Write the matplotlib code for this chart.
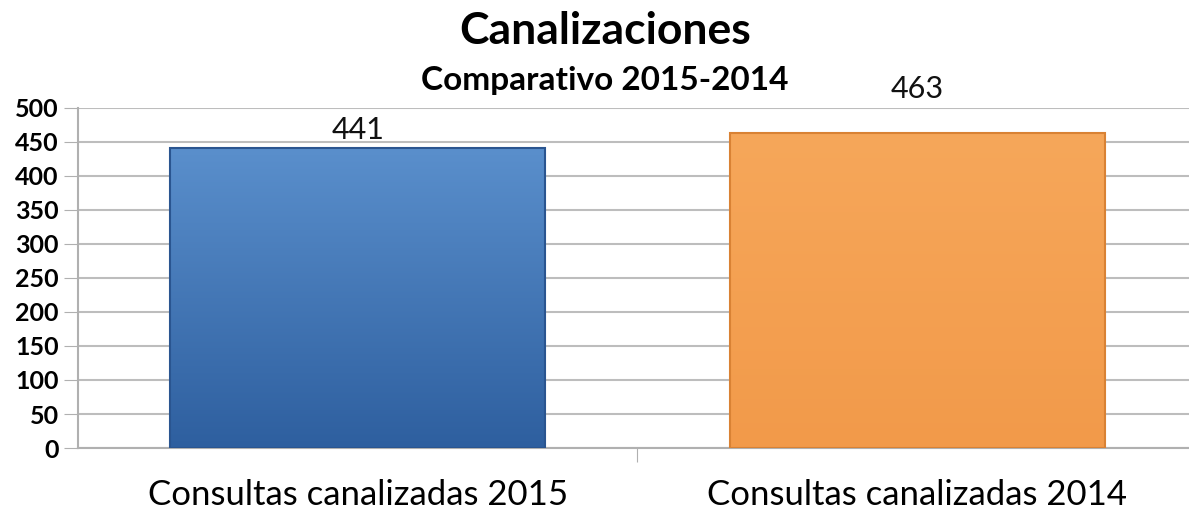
import matplotlib.pyplot as plt
import numpy as np
from matplotlib.colors import LinearSegmentedColormap

categorias = ["Consultas canalizadas 2015", "Consultas canalizadas 2014"]
valores = [441, 463]
colores_top = ["#5a8fcc", "#f6a75a"]
colores_bottom = ["#2e5f9f", "#f29a4a"]
bordes = ["#2a5590", "#d98234"]
desfase_etiqueta = [4, 30]  # px above the bar top

plt.rcParams['font.family'] = ['Lato', 'DejaVu Sans']

fig = plt.figure(figsize=(11.89, 5.13), dpi=100)
ax = fig.add_axes([0.0656, 0.1267, 0.9344, 0.6628])

x = np.arange(len(categorias))
ancho = 0.67
bars = ax.bar(x, valores, width=ancho, color="none", edgecolor="none", zorder=3)
for b, ct, cb, be in zip(bars, colores_top, colores_bottom, bordes):
    x0, y0 = b.get_x(), b.get_y()
    w, h = b.get_width(), b.get_height()
    cmap = LinearSegmentedColormap.from_list("g", [cb, ct])
    grad = np.linspace(0, 1, 256).reshape(-1, 1)
    im = ax.imshow(grad, cmap=cmap, origin="lower", aspect="auto",
                   extent=(x0, x0 + w, y0, y0 + h), zorder=3)
    rect = plt.Rectangle((x0, y0), w, h, facecolor="none", edgecolor=be, lw=1.5, zorder=4)
    ax.add_patch(rect)
    im.set_clip_path(rect)

for xi, v, d in zip(x, valores, desfase_etiqueta):
    ax.annotate(str(v), (xi, v), xytext=(0, d), textcoords="offset pixels",
                ha="center", va="bottom", fontsize=22, color="#111111")

ax.set_xlim(-0.5, 1.486)
ax.set_ylim(0, 500)
ax.set_yticks(range(0, 501, 50))
ax.tick_params(axis="y", labelsize=18, length=10, color="#b0b0b0", pad=4)
for lbl in ax.get_yticklabels():
    lbl.set_fontweight("bold")
ax.yaxis.grid(True, color="#bdbdbd", lw=1.5, zorder=0)
ax.set_axisbelow(True)

ax.set_xticks([0.5])
ax.set_xticklabels([""])
ax.tick_params(axis="x", length=10, color="#b0b0b0")
for xi, c in zip(x, categorias):
    ax.text(xi, -0.09, c, transform=ax.get_xaxis_transform(), ha="center", va="top", fontsize=25)

for s in ["top", "right"]:
    ax.spines[s].set_visible(False)
ax.spines["left"].set_color("#b0b0b0")
ax.spines["bottom"].set_color("#b0b0b0")
ax.spines["left"].set_linewidth(1.5)
ax.spines["bottom"].set_linewidth(1.5)

fig.text(0.509, 0.94, "Canalizaciones", ha="center", va="center", fontsize=32, fontweight="bold")
fig.text(0.509, 0.843, "Comparativo 2015-2014", ha="center", va="center", fontsize=24, fontweight="bold")

fig.savefig("out.png", dpi=100)
